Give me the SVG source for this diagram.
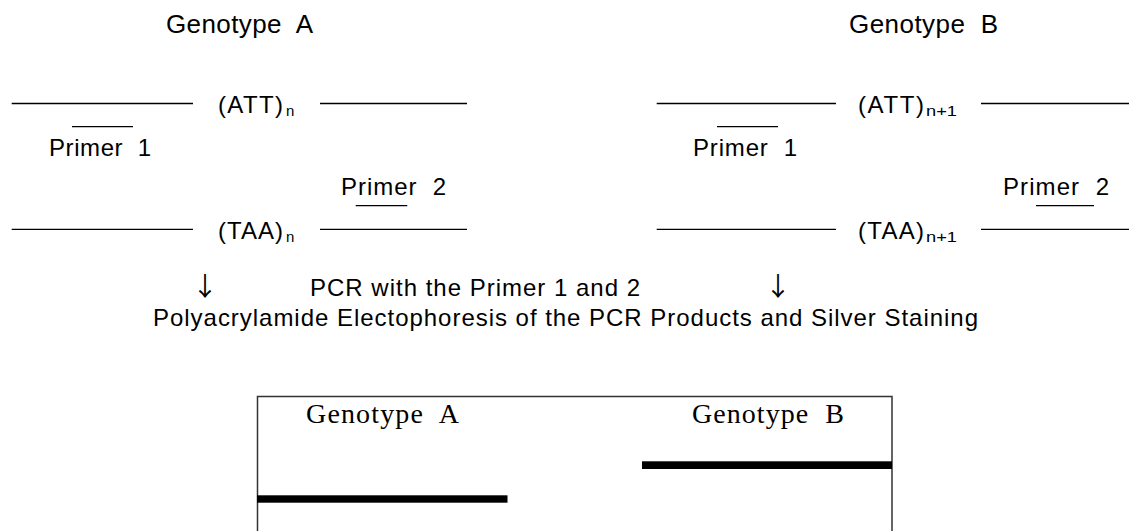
<svg xmlns="http://www.w3.org/2000/svg" width="1131" height="531" viewBox="0 0 1131 531">
  <style>
    .sans { font-family: "Liberation Sans", Arial, sans-serif; fill: #000; }
    .serif { font-family: "Liberation Serif", "Times New Roman", serif; fill: #000; }
    .title { font-size: 26px; }
    .seq { font-size: 24px; }
    .sub { font-size: 15px; }
    .lbl { font-size: 24px; }
    .step { font-size: 24px; }
    .arrow { font-family: "Noto Sans CJK KR", "DejaVu Sans", sans-serif; font-size: 26px; text-anchor: middle; fill: #000; }
    .gel-lbl { font-size: 28px; }
    .strand { stroke: #000; stroke-width: 1.3; fill: none; }
    .primer { stroke: #000; stroke-width: 1.3; fill: none; }
    .gel-frame { stroke: #333; stroke-width: 1.5; fill: none; }
    .band { fill: #000; }
  </style>

  <!-- Headings -->
  <g id="heading-a">
    <text class="sans title" x="166" y="33" textLength="147" lengthAdjust="spacing">Genotype&#160; A</text>
  </g>
  <g id="heading-b">
    <text class="sans title" x="849" y="33" textLength="149" lengthAdjust="spacing">Genotype&#160; B</text>
  </g>

  <!-- Genotype A duplex -->
  <g id="duplex-a">
    <line class="strand" x1="11.7" y1="103.5" x2="193" y2="103.5"/>
    <line class="strand" x1="320" y1="103.5" x2="467" y2="103.5"/>
    <text class="sans seq" x="218" y="113.3" textLength="65" lengthAdjust="spacing">(ATT)</text>
    <text class="sans sub" x="286" y="116">n</text>

    <line class="primer" x1="72" y1="126.7" x2="133" y2="126.7"/>
    <text class="sans lbl" x="49" y="156" textLength="102" lengthAdjust="spacing">Primer&#160; 1</text>

    <text class="sans lbl" x="341" y="195" textLength="105" lengthAdjust="spacing">Primer&#160; 2</text>
    <line class="primer" x1="355.7" y1="205.7" x2="407.3" y2="205.7"/>

    <line class="strand" x1="11.7" y1="229.3" x2="193" y2="229.3"/>
    <line class="strand" x1="320" y1="229.3" x2="467" y2="229.3"/>
    <text class="sans seq" x="218" y="239.3" textLength="65" lengthAdjust="spacing">(TAA)</text>
    <text class="sans sub" x="286" y="242">n</text>
  </g>

  <!-- Genotype B duplex -->
  <g id="duplex-b">
    <line class="strand" x1="656.7" y1="103.5" x2="836" y2="103.5"/>
    <line class="strand" x1="981" y1="103.5" x2="1129" y2="103.5"/>
    <text class="sans seq" x="858" y="113.3" textLength="66" lengthAdjust="spacing">(ATT)</text>
    <text class="sans sub" x="926" y="116" textLength="31" lengthAdjust="spacingAndGlyphs">n+1</text>

    <line class="primer" x1="717" y1="126.7" x2="778" y2="126.7"/>
    <text class="sans lbl" x="693" y="156" textLength="104" lengthAdjust="spacing">Primer&#160; 1</text>

    <text class="sans lbl" x="1003" y="195" textLength="106" lengthAdjust="spacing">Primer&#160; 2</text>
    <line class="primer" x1="1036" y1="205.7" x2="1094" y2="205.7"/>

    <line class="strand" x1="656.7" y1="229.3" x2="836" y2="229.3"/>
    <line class="strand" x1="981" y1="229.3" x2="1129" y2="229.3"/>
    <text class="sans seq" x="858" y="239.3" textLength="66" lengthAdjust="spacing">(TAA)</text>
    <text class="sans sub" x="926" y="242" textLength="31" lengthAdjust="spacingAndGlyphs">n+1</text>
  </g>

  <!-- Process steps -->
  <g id="pcr-step">
    <text class="arrow" x="205" y="296">↓</text>
    <text class="sans step" x="310" y="296" textLength="330" lengthAdjust="spacing">PCR with the Primer 1 and 2</text>
    <text class="arrow" x="778" y="296">↓</text>
    <text class="sans step" x="565.5" y="326" text-anchor="middle" textLength="825" lengthAdjust="spacing">Polyacrylamide Electophoresis of the PCR Products and Silver Staining</text>
  </g>

  <!-- Gel -->
  <g id="gel">
    <path class="gel-frame" d="M257.5,531 V396.5 H892 V531"/>
    <text class="serif gel-lbl" x="306" y="423" textLength="153" lengthAdjust="spacing">Genotype&#160; A</text>
    <text class="serif gel-lbl" x="692" y="423" textLength="152" lengthAdjust="spacing">Genotype&#160; B</text>
    <rect id="band-a" class="band" x="257" y="495.3" width="250.5" height="7.4"/>
    <rect id="band-b" class="band" x="642" y="461.3" width="250" height="7.7"/>
  </g>
</svg>
